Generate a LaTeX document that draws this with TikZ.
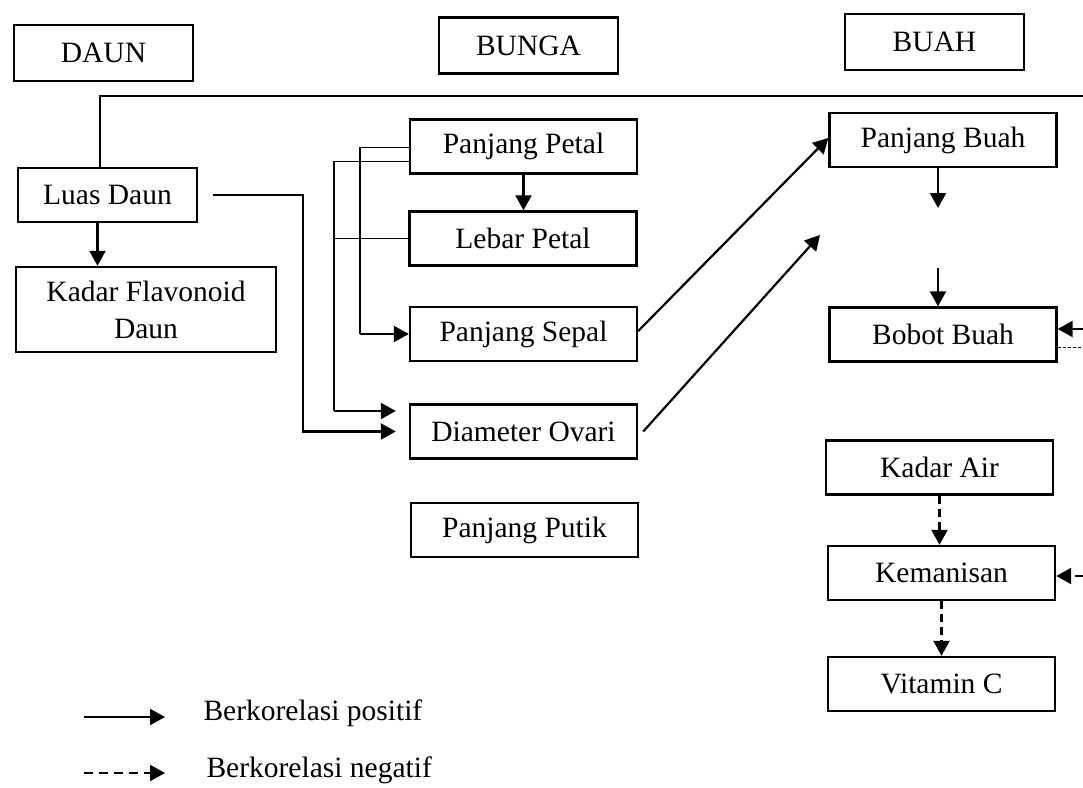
\documentclass[tikz,border=0pt]{standalone}
\usepackage{fontspec}
\setmainfont{Liberation Serif}
\usetikzlibrary{arrows.meta}

\begin{document}
\begin{tikzpicture}[%
  x=1pt, y=-1pt,
  varbox/.style={draw, line width=2.4pt, inner sep=0pt,
    minimum width=227pt, minimum height=54pt,
    font=\fontsize{29.5}{37}\selectfont},
  headbox/.style={varbox, minimum width=179pt, minimum height=56pt},
  poslink/.style={line width=2.2pt, -{Triangle[length=15pt,width=16pt]}},
  neglink/.style={poslink, dash pattern=on 8pt off 5pt},
  thinline/.style={line width=1.2pt},
  ltext/.style={anchor=west, font=\fontsize{29.5}{37}\selectfont}]
\useasboundingbox (0,0) rectangle (1083,787);

\node[headbox] (daun)  at (103.5,53)  {DAUN};
\node[headbox] (bunga) at (528.5,45.5) {BUNGA};
\node[headbox] (buah)  at (934.5,42)  {BUAH};

\node[varbox, minimum width=179pt] (luas) at (107.5,195) {Luas Daun};
\node[varbox, minimum width=260pt, minimum height=85pt, align=center]
  (flav) at (146,309.5) {Kadar Flavonoid\\Daun};

\node[varbox] (petal) at (523.5,146.5) {Panjang Petal};
\node[varbox] (lebar) at (523,238.5)   {Lebar Petal};
\node[varbox] (sepal) at (523.5,334)   {Panjang Sepal};
\node[varbox] (ovari) at (523.5,431.5) {Diameter Ovari};
\node[varbox] (putik) at (524.5,530)   {Panjang Putik};

\node[varbox] (pbuah) at (943,140)    {Panjang Buah};
\node[varbox] (bobot) at (943,334.5)  {Bobot Buah};
\node[varbox] (air)   at (939.5,467.5) {Kadar Air};
\node[varbox] (manis) at (941.5,573)  {Kemanisan};
\node[varbox] (vitc)  at (941.5,684)  {Vitamin C};

\coordinate (topL)  at (100,96);
\coordinate (topR)  at (1083,96);
\coordinate (luasOut) at ([xshift=-10pt]luas.south);
\coordinate (bendA) at (360,334);
\coordinate (bendB) at (334,411);
\coordinate (ovIn)  at ([xshift=-13pt]ovari.west);
\coordinate (freeTip) at (820,235);
\coordinate (midA)  at (938,208);
\coordinate (midB)  at (938,268);
\coordinate (edgeA) at (1083,329);
\coordinate (edgeB) at (1083,347);
\coordinate (edgeC) at (1083,576);

\draw[thinline] (luas.north -| topL) -- (topL) -- (topR);
\draw[poslink] (luasOut) -- (luasOut |- flav.north);
\draw[poslink] ([xshift=15pt]luas.east) -- ++(90,0) |- (ovIn);

\draw[thinline] ([yshift=-1pt]petal.west) -| (bendA);
\draw[poslink] (bendA) -- (sepal.west);
\draw[thinline] ([yshift=-15pt]petal.west) -| (bendB);
\draw[thinline] (lebar.west) -- (lebar.west -| bendB);
\draw[poslink] (bendB) -- (ovIn |- bendB);
\draw[poslink] (petal.south) -- (petal.south |- lebar.north);

\draw[poslink] ([yshift=3pt]sepal.east) -- ([yshift=2pt]pbuah.west);
\draw[poslink] ([xshift=5pt]ovari.east) -- (freeTip);

\draw[poslink] (pbuah.south -| midA) -- (midA);
\draw[poslink] (midB) -- (bobot.north -| midB);
\draw[poslink] (edgeA) -- (bobot.east |- edgeA);
\draw[line width=0.9pt, dash pattern=on 3pt off 2pt] (bobot.east |- edgeB) -- (edgeB);

\draw[neglink] (air.south) -- (air.south |- manis.north);
\draw[neglink] (edgeC) -- (manis.east |- edgeC);
\draw[neglink] (manis.south) -- (manis.south |- vitc.north);

\coordinate (posA) at (84,717);
\coordinate (posB) at (165,717);
\coordinate (negA) at (84,773);
\coordinate (negB) at (165,773);
\draw[poslink] (posA) -- (posB);
\draw[neglink, dash pattern=on 9pt off 6pt] (negA) -- (negB);
\node[ltext] (posTxt) at (200,713) {Berkorelasi positif};
\node[ltext] (negTxt) at (203,770) {Berkorelasi negatif};
\end{tikzpicture}
\end{document}
